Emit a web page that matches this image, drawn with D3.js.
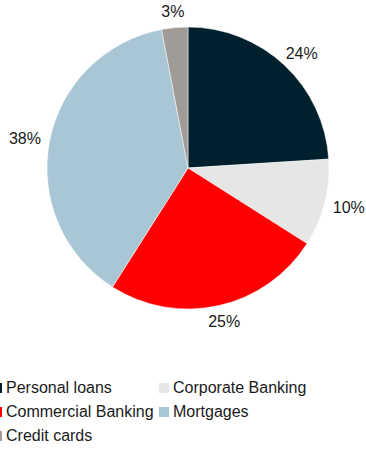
<!DOCTYPE html>
<html>
<head>
<meta charset="utf-8">
<script src="https://cdn.jsdelivr.net/npm/d3@7"></script>
<style>
  body { margin: 0; background: #fff; }
  svg { display: block; font-family: "Liberation Sans", Arial, sans-serif; }
</style>
</head>
<body>
<svg id="chart" width="366" height="449"></svg>
<script>
let categories = ["Personal loans", "Corporate Banking", "Commercial Banking", "Mortgages", "Credit cards"];
let shares = [24, 10, 25, 38, 3];
let colors = ["#00202e", "#e6e6e6", "#ff0000", "#a9c6d4", "#a09b97"];

let width = 366, height = 449;
let cx = 188, cy = 168, radius = 141, labelRadius = 150;

let svg = d3.select("#chart");

let data = categories.map((c, i) => ({name: c, value: shares[i], color: colors[i]}));

let pie = d3.pie().sort(null).value(d => d.value);
let arc = d3.arc().innerRadius(0).outerRadius(radius);

let g = svg.append("g").attr("transform", "translate(" + cx + "," + cy + ")");

g.selectAll(".slice")
  .data(pie(data))
  .enter()
  .append("path")
  .attr("class", "slice")
  .attr("d", arc)
  .attr("fill", d => d.data.color)
  .attr("stroke", "#fff")
  .attr("stroke-width", 0.5);

// outside-end labels: box pushed out from the anchor point along the slice's mid angle
g.selectAll(".pct")
  .data(pie(data))
  .enter()
  .append("text")
  .attr("class", "pct")
  .attr("text-anchor", "middle")
  .attr("dy", "0.35em")
  .style("font-size", "16px")
  .style("fill", "#1a1a1a")
  .text(d => d.data.value + "%")
  .attr("transform", function(d){
    let a = (d.startAngle + d.endAngle) / 2;
    let w = this.getComputedTextLength();
    let h = 14;
    let x = Math.sin(a) * (labelRadius + w / 2);
    let y = -Math.cos(a) * (labelRadius + h / 2);
    return "translate(" + x + "," + y + ")";
  });

// LEGEND
let colX = [-8, 159];
let rowY = 383, rowStep = 24, box = 10;

let legend = svg.append("g");
let items = legend.selectAll(".item")
  .data(data)
  .enter()
  .append("g")
  .attr("class", "item")
  .attr("transform", (d, i) => "translate(" + colX[i % 2] + "," + (rowY + Math.floor(i / 2) * rowStep) + ")");

items.append("rect")
  .attr("width", box)
  .attr("height", box)
  .attr("fill", d => d.color);

items.append("text")
  .attr("x", box + 4)
  .attr("y", box)
  .style("font-size", "16px")
  .style("fill", "#1a1a1a")
  .text(d => d.name);
</script>
</body>
</html>
